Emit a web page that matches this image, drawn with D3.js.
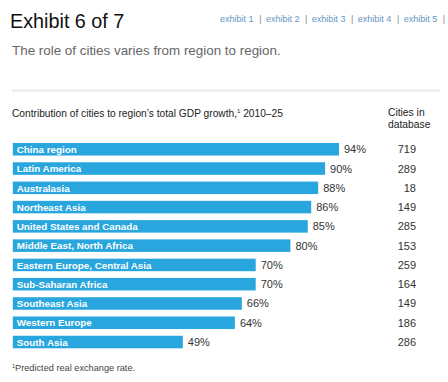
<!DOCTYPE html>
<html><head><meta charset="utf-8">
<script src="https://cdn.jsdelivr.net/npm/d3@7"></script>
<style>
html,body{margin:0;padding:0;background:#fff;}
svg{display:block;font-family:Arial,"Liberation Sans",Helvetica,sans-serif;}
</style></head>
<body>
<script>
const regions = ["China region","Latin America","Australasia","Northeast Asia","United States and Canada","Middle East, North Africa","Eastern Europe, Central Asia","Sub-Saharan Africa","Southeast Asia","Western Europe","South Asia"];
const contribution = [94,90,88,86,85,80,70,70,66,64,49];
const citiesInDb = [719,289,18,149,285,153,259,164,149,186,286];
const links = ["exhibit 1","exhibit 2","exhibit 3","exhibit 4","exhibit 5"];

const W = 448, H = 382;
const svg = d3.select("body").append("svg").attr("width", W).attr("height", H);

svg.append("text").attr("x", 10).attr("y", 28).attr("font-size", 19.8).attr("fill", "#111").text("Exhibit 6 of 7");

// links
let lx = 220;
const lg = svg.append("g");
links.forEach((t, i) => {
  const tt = lg.append("text").attr("x", lx).attr("y", 22).attr("font-size", 9).attr("fill", "#5f95c4").text(t);
  const w = tt.node().getComputedTextLength();
  lx += w + 5.6;
  lg.append("text").attr("x", lx).attr("y", 22).attr("font-size", 9).attr("fill", "#888").text("|");
  lx += 6.8;
});

svg.append("text").attr("x", 12).attr("y", 55).attr("font-size", 13.4).attr("fill", "#666").text("The role of cities varies from region to region.");

svg.append("line").attr("x1", 12).attr("x2", 440).attr("y1", 90.5).attr("y2", 90.5).attr("stroke", "#e8e8e8").attr("stroke-width", 2);

svg.append("text").attr("x", 12).attr("y", 116.5).attr("font-size", 10.2).attr("fill", "#222")
  .html("Contribution of cities to region’s total GDP growth,<tspan font-size='6' dy='-4'>1</tspan><tspan dy='4'> 2010–25</tspan>");
svg.append("text").attr("x", 388).attr("y", 115.5).attr("font-size", 10.3).attr("fill", "#222").text("Cities in");
svg.append("text").attr("x", 388).attr("y", 128).attr("font-size", 10.3).attr("fill", "#222").text("database");

const x = d3.scaleLinear().domain([0, 100]).range([12.8, 359.8]);
const y = d3.scaleBand().domain(regions).range([143, 348.3]).paddingInner(0.35).paddingOuter(0);

const rows = svg.append("g").selectAll("g").data(regions).join("g");
rows.append("rect").attr("x", x(0)).attr("y", d => y(d)).attr("height", y.bandwidth())
  .attr("width", (d, i) => x(contribution[i]) - x(0)).attr("fill", "#29a6de");
rows.append("text").attr("x", x(0) + 4).attr("y", d => y(d) + y.bandwidth() / 2 + 3.7)
  .attr("font-size", 9.8).attr("font-weight", "bold").attr("fill", "#fff").text(d => d);
rows.append("text").attr("x", (d, i) => x(contribution[i]) + 5).attr("y", d => y(d) + y.bandwidth() / 2 + 4)
  .attr("font-size", 11).attr("fill", "#333").text((d, i) => contribution[i] + "%");
rows.append("text").attr("x", 416).attr("text-anchor", "end").attr("y", d => y(d) + y.bandwidth() / 2 + 4)
  .attr("font-size", 11).attr("fill", "#333").text((d, i) => citiesInDb[i]);

svg.append("text").attr("x", 12).attr("y", 371).attr("font-size", 9.2).attr("fill", "#444")
  .html("<tspan font-size='5.5' dy='-3'>1</tspan><tspan dy='3'>Predicted real exchange rate.</tspan>");
</script>
</body></html>
